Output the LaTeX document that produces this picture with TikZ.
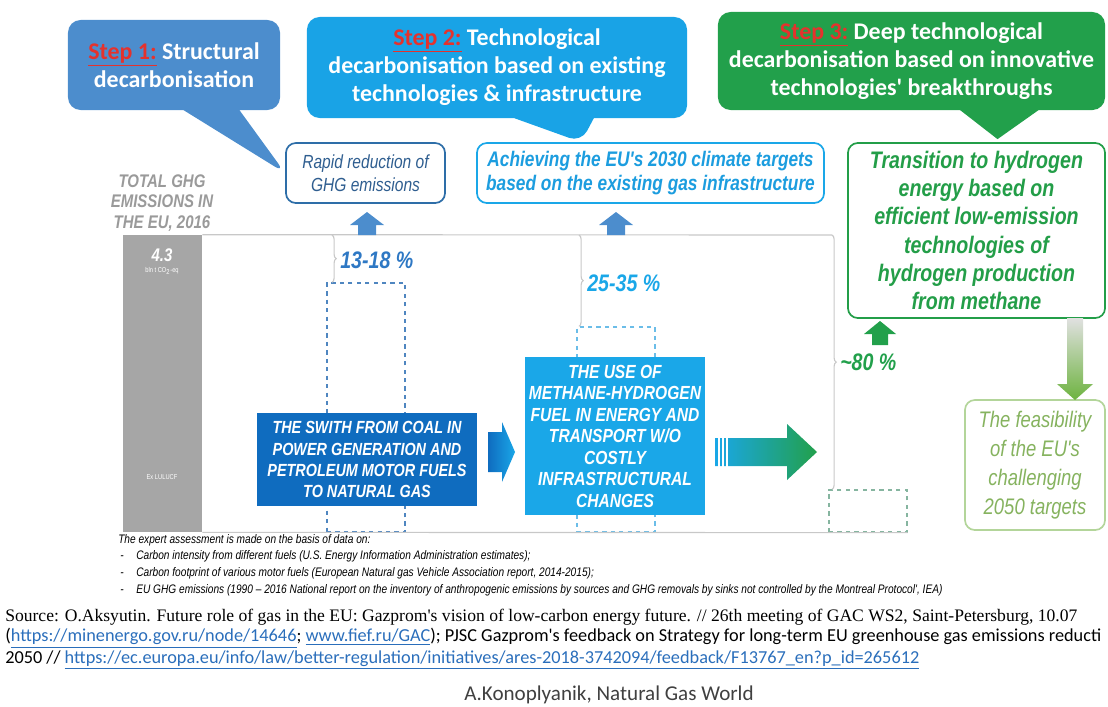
\documentclass[tikz,border=0pt]{standalone}
\usepackage{fontspec}
\usepackage{xcolor}
\usetikzlibrary{shapes.callouts, decorations.pathreplacing, calc}
\setmainfont{Liberation Sans}
\newfontfamily\narrowsf{Liberation Sans}[FakeStretch=0.82]
\newfontfamily\calibri{Carlito}
\newfontfamily\timesrm{Liberation Serif}
\definecolor{stepone}{HTML}{4C8DCD}
\definecolor{steptwo}{HTML}{19A3E6}
\definecolor{stepthree}{HTML}{22A04B}
\definecolor{stepred}{HTML}{E5322D}
\definecolor{switchblue}{HTML}{0F6CBF}
\definecolor{usecyan}{HTML}{1AA7E8}
\definecolor{rapidblue}{HTML}{2E6EA8}
\definecolor{rapidtext}{HTML}{2F5E90}
\definecolor{achievetext}{HTML}{1C9DDF}
\definecolor{transgreen}{HTML}{239E48}
\definecolor{lightgreen}{HTML}{B3D59A}
\definecolor{olivegreen}{HTML}{86B35F}
\definecolor{feasgreen}{HTML}{6DB33F}
\definecolor{bargray}{HTML}{A6A6A6}
\definecolor{totalgray}{HTML}{9A9A9A}
\definecolor{axisgray}{HTML}{C8C8C8}
\definecolor{dashblue}{HTML}{4F86C0}
\definecolor{dashcyan}{HTML}{6BBDE8}
\definecolor{dashgreen}{HTML}{86B5A0}
\definecolor{pctblue}{HTML}{2E78C4}
\definecolor{linkblue}{HTML}{2A6EBB}
\definecolor{credgray}{HTML}{404040}

\begin{document}
\begin{tikzpicture}[
    x=0.025cm, y=-0.025cm,
    stepbox/.style={
      rectangle callout, rounded corners=9pt, text=white, align=center, inner sep=0pt,
      font=\calibri\bfseries\fontsize{17}{20}\selectfont
    },
    goalbox/.style={
      rectangle, rounded corners=7pt, line width=1.2pt, fill=white, align=center, inner sep=0pt
    },
    actbox/.style={
      rectangle, text=white, align=center, inner sep=0pt,
      font=\narrowsf\bfseries\itshape\fontsize{12.5}{15}\selectfont
    },
    dashbox/.style={rectangle, dashed, line width=0.9pt, inner sep=0pt, minimum width=1.95cm},
    pct/.style={anchor=west, inner sep=0pt, font=\narrowsf\bfseries\itshape\fontsize{17}{20}\selectfont},
    note/.style={anchor=west, inner sep=0pt, font=\narrowsf\itshape\fontsize{8.8}{10}\selectfont},
    axis/.style={axisgray, line width=0.8pt},
    pctbrace/.style={axis, decorate, decoration={brace, amplitude=3pt}},
  ]

  \useasboundingbox (0,0) rectangle (1108,706);
  \clip (0,0) rectangle (1108,706);

  % total emissions bar
  \node[fill=bargray, minimum width=1.975cm, minimum height=7.425cm, inner sep=0pt] (bar) at (162.5,383.5) {};
  \node[align=center, text=totalgray, font=\narrowsf\bfseries\itshape\fontsize{13}{14.5}\selectfont] (total) at (162,203) {TOTAL GHG\\EMISSIONS IN\\THE EU, 2016};
  \node[text=white, font=\narrowsf\bfseries\itshape\fontsize{13}{14}\selectfont] (value) at (162,255) {4.3};
  \node[text=white, font=\narrowsf\fontsize{5}{6}\selectfont] (unit) at (162,271) {bln t CO\textsubscript{2}-eq};
  \node[text=white, font=\narrowsf\fontsize{5}{6}\selectfont] (lulucf) at (162,477) {Ex LULUCF};

  % dashed shares
  \node[dashbox, draw=dashblue, minimum height=6.225cm] (share1) at (366,407.5) {};
  \node[dashbox, draw=dashcyan, minimum height=5.125cm] (share2) at (616,429.5) {};
  \node[dashbox, draw=dashgreen, minimum height=1.05cm] (share3) at (868,511) {};

  % axis and braces
  \coordinate (b1) at (332,235);
  \coordinate (b2) at (579,235);
  \coordinate (b3) at (832,235);
  \draw[axis] (bar.north east) -- (b3);
  \draw[axis] (bar.south east) -- (share3.south east);
  \draw[pctbrace] (b1) -- (b1 |- share1.north);
  \draw[pctbrace] (b2) -- (b2 |- share2.north);
  \draw[pctbrace] (b3) -- (b3 |- share3.north);
  \node[pct, text=pctblue] (p1) at (340,260) {13-18 \%};
  \node[pct, text=usecyan] (p2) at (587,283) {25-35 \%};
  \node[pct, text=stepthree] (p3) at (840,362) {\textasciitilde80 \%};

  % measures
  \node[actbox, fill=switchblue, minimum width=5.5cm, minimum height=2.325cm] (switch) at (367,459.5) {THE SWITH FROM COAL IN\\POWER GENERATION AND\\PETROLEUM MOTOR FUELS\\TO NATURAL GAS};
  \node[actbox, fill=usecyan, minimum width=4.5cm, minimum height=3.95cm, font=\narrowsf\bfseries\itshape\fontsize{13.5}{15.3}\selectfont] (use) at (615,436) {THE USE OF\\METHANE-HYDROGEN\\FUEL IN ENERGY AND\\TRANSPORT W/O\\COSTLY\\INFRASTRUCTURAL\\CHANGES};

  \shade[left color=switchblue, right color=usecyan] (488,432) -- (502,432) -- (502,422) -- (515,452) -- (502,482) -- (502,472) -- (488,472) -- cycle;
  \shade[left color=usecyan, right color=stepthree] (715,438) -- (787,438) -- (787,424) -- (817,452) -- (787,480) -- (787,466) -- (715,466) -- cycle;
  \foreach \s in {719,723,727}
    \draw[white, line width=0.9pt] (\s,436) -- (\s,468);

  % goals
  \node[goalbox, draw=rapidblue, text=rapidtext, minimum width=3.975cm, minimum height=1.5cm, font=\narrowsf\itshape\fontsize{13.5}{16.5}\selectfont] (rapid) at (365.5,173) {Rapid reduction of\\GHG emissions};
  \node[goalbox, draw=usecyan, text=achievetext, minimum width=8.675cm, minimum height=1.5cm, font=\narrowsf\bfseries\itshape\fontsize{15}{17}\selectfont] (achieve) at (650.5,173) {Achieving the EU's 2030 climate targets\\based on the existing gas infrastructure};
  \node[goalbox, draw=transgreen, text=transgreen, minimum width=6.425cm, minimum height=4.375cm, font=\narrowsf\bfseries\itshape\fontsize{17}{20}\selectfont] (hydrogen) at (976.5,230.5) {Transition to hydrogen\\energy based on\\efficient low-emission\\technologies of\\hydrogen production\\from methane};
  \node[goalbox, draw=lightgreen, text=olivegreen, minimum width=3.5cm, minimum height=3.25cm, font=\narrowsf\itshape\fontsize{16}{20.5}\selectfont] (target) at (1035,465) {The feasibility\\of the EU's\\challenging\\2050 targets};

  % small arrows
  \fill[stepone] (358,235) -- (358,225) -- (350,225) -- (367,212) -- (384,225) -- (376,225) -- (376,235) -- cycle;
  \fill[stepone] (607,235) -- (607,225) -- (599,225) -- (616,212) -- (633,225) -- (625,225) -- (625,235) -- cycle;
  \fill[stepthree] (872,345) -- (872,334) -- (864,334) -- (880,321) -- (896,334) -- (888,334) -- (888,345) -- cycle;
  \shade[top color=black!12, bottom color=feasgreen] (1067,318) -- (1083,318) -- (1083,384) -- (1093,384) -- (1075,400) -- (1057,384) -- (1067,384) -- cycle;

  % steps
  \node[stepbox, fill=stepone, minimum width=5.3cm, minimum height=2.25cm,
    callout absolute pointer={(rapid.west)}, callout pointer width=1.4cm] (step1) at (174,65)
    {\textcolor{stepred}{\underline{Step 1:}} Structural\\decarbonisation};
  \node[stepbox, fill=steptwo, minimum width=9.5cm, minimum height=2.525cm,
    callout absolute pointer={($(achieve.north west)+(105,0)$)}, callout pointer width=2cm] (step2) at (497,67.5)
    {\textcolor{stepred}{\underline{Step 2:}} Technological\\decarbonisation based on existing\\technologies \& infrastructure};
  \node[stepbox, rectangle, fill=stepthree, minimum width=9.675cm, minimum height=2.45cm] (step3) at (911.5,61)
    {\textcolor{stepred}{\underline{Step 3:}} Deep technological\\decarbonisation based on innovative\\technologies' breakthroughs};
  \fill[stepthree] ($(step3.south)+(45,-3)$) -- ($(step3.south)+(131,-3)$) -- ($(hydrogen.north)+(21,-3)$) -- cycle;

  % notes
  \node[note] (fn0) at (118,540) {The expert assessment is made on the basis of data on:};
  \node[note] (fn1) at (120,556) {-\hspace{9pt}Carbon intensity from different fuels (U.S. Energy Information Administration estimates);};
  \node[note] (fn2) at (120,573) {-\hspace{9pt}Carbon footprint of various motor fuels (European Natural gas Vehicle Association report, 2014-2015);};
  \node[note] (fn3) at (120,590) {-\hspace{9pt}EU GHG emissions (1990 – 2016 National report on the inventory of anthropogenic emissions by sources and GHG removals by sinks not controlled by the Montreal Protocol', IEA)};

  \node[anchor=west, inner sep=0pt, font=\timesrm\fontsize{12.5}{14}\selectfont] (src1) at (5,617) {Source: O.Aksyutin. Future role of gas in the EU: Gazprom's vision of low-carbon energy future. // 26th meeting of GAC WS2, Saint-Petersburg, 10.07};
  \node[anchor=west, inner sep=0pt, font=\calibri\fontsize{13}{14}\selectfont] (src2) at (5,638) {(\textcolor{linkblue}{\underline{https://minenergo.gov.ru/node/14646}}; \textcolor{linkblue}{\underline{www.fief.ru/GAC}}); PJSC Gazprom's feedback on Strategy for long-term EU greenhouse gas emissions reducti};
  \node[anchor=west, inner sep=0pt, font=\calibri\fontsize{13}{14}\selectfont] (src3) at (5,660) {2050 // \textcolor{linkblue}{\underline{https://ec.europa.eu/info/law/better-regulation/initiatives/ares-2018-3742094/feedback/F13767\_en?p\_id=265612}}};
  \node[anchor=west, inner sep=0pt, text=credgray, font=\calibri\fontsize{15}{17}\selectfont] (credit) at (464,695) {A.Konoplyanik, Natural Gas World};

\end{tikzpicture}
\end{document}
